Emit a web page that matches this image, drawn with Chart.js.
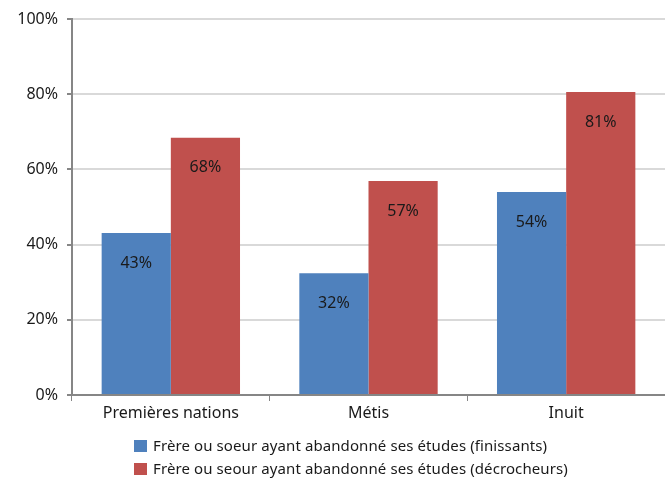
<!DOCTYPE html>
<html>
<head>
<meta charset="utf-8">
<script src="https://cdn.jsdelivr.net/npm/chart.js@4"></script>
<style>
  html, body { margin: 0; padding: 0; background: #fff; }
  #wrap { position: relative; width: 665px; height: 479px; }
  #legend { position: absolute; left: 134px; top: 435px; font: 15px "Noto Sans", sans-serif; letter-spacing: 0.1px; color: #1a1a1a; }
  #legend div { height: 23px; line-height: 21px; white-space: nowrap; }
  #legend span { display: inline-block; width: 13px; height: 12px; margin-right: 6px; vertical-align: -1px; }
</style>
</head>
<body>
<div id="wrap">
  <canvas id="chart" width="665" height="479"></canvas>
  <div id="legend"></div>
</div>
<script>
const categories = ['Premières nations', 'Métis', 'Inuit'];
const finissants = [43.1, 32.4, 54.0];
const decrocheurs = [68.4, 56.9, 80.6];
const seriesNames = [
  'Frère ou soeur ayant abandonné ses études (finissants)',
  'Frère ou seour ayant abandonné ses études (décrocheurs)'
];
const colors = ['#4f81bd', '#c0504d'];

// etiquettes dans le haut des barres
const barLabels = {
  id: 'barLabels',
  afterDatasetsDraw(chart) {
    const ctx = chart.ctx;
    ctx.save();
    ctx.font = '16px "Noto Sans", sans-serif';
    ctx.fillStyle = '#1a1a1a';
    ctx.textAlign = 'center';
    ctx.textBaseline = 'middle';
    chart.data.datasets.forEach((ds, i) => {
      chart.getDatasetMeta(i).data.forEach((bar, j) => {
        ctx.fillText(Math.round(ds.data[j]) + '%', bar.x, bar.y + 30);
      });
    });
    ctx.restore();
  }
};

new Chart(document.getElementById('chart'), {
  type: 'bar',
  data: {
    labels: categories,
    datasets: [
      { label: seriesNames[0], data: finissants, backgroundColor: colors[0] },
      { label: seriesNames[1], data: decrocheurs, backgroundColor: colors[1] }
    ]
  },
  options: {
    responsive: false,
    animation: false,
    layout: { padding: { top: 19, right: 0, left: 0, bottom: 0 } },
    plugins: { legend: { display: false }, tooltip: { enabled: false } },
    datasets: { bar: { categoryPercentage: 0.7, barPercentage: 1.0 } },
    scales: {
      x: {
        afterFit: s => { s.height = 84; },
        border: { color: '#868686', width: 2 },
        grid: { drawOnChartArea: false, tickLength: 6, color: '#868686', offset: true },
        ticks: { color: '#1a1a1a', font: { family: 'Noto Sans', size: 16 }, padding: 3 }
      },
      y: {
        min: 0, max: 100,
        afterFit: s => { s.width = 72; },
        border: { color: '#868686', width: 2 },
        grid: { color: '#d9d9d9', lineWidth: 2, tickColor: '#868686', tickLength: 5 },
        ticks: {
          stepSize: 20, color: '#1a1a1a', padding: 9,
          font: { family: 'Noto Sans', size: 16 },
          callback: v => v + '%'
        }
      }
    }
  },
  plugins: [barLabels]
});

document.getElementById('legend').innerHTML = seriesNames
  .map((n, i) => `<div><span style="background:${colors[i]}"></span>${n}</div>`)
  .join('');
</script>
</body>
</html>
